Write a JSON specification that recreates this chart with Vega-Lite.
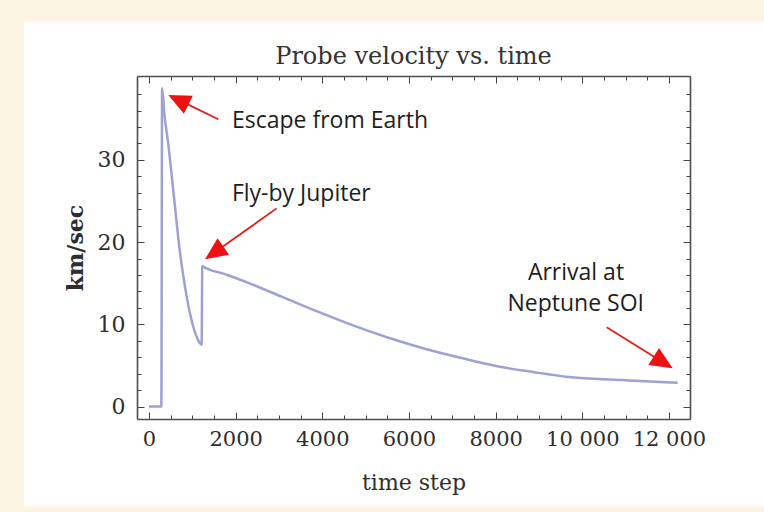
{
  "$schema": "https://vega.github.io/schema/vega-lite/v6.json",
  "width": 553,
  "height": 343,
  "autosize": {"type": "none"},
  "padding": {"left": 137, "top": 76, "right": 74, "bottom": 93},
  "background": "#fcf5e3",
  "title": {
    "text": "Probe velocity vs. time",
    "font": "DejaVu Serif",
    "fontSize": 24,
    "fontWeight": "normal",
    "color": "#333333",
    "anchor": "middle",
    "baseline": "alphabetic",
    "offset": -66
  },
  "config": {
    "view": {"stroke": null},
    "axis": {
      "grid": false,
      "labelFont": "DejaVu Serif",
      "labelFontSize": 21,
      "labelColor": "#2e2e2e",
      "titleFont": "DejaVu Serif",
      "titleColor": "#2e2e2e",
      "tickColor": "#444444",
      "tickWidth": 1,
      "domainColor": "#4d4d4d",
      "domainWidth": 1.6,
      "labelFlush": false,
      "labelOverlap": false
    }
  },
  "resolve": {"axis": {"x": "independent", "y": "independent"}},
  "layer": [
    {
      "data": {"values": [{}]},
      "mark": {"type": "rect", "fill": "#ffffff"},
      "encoding": {
        "x": {"datum": -2885, "type": "quantitative", "scale": {"domain": [-277, 12486], "nice": false, "zero": false}, "axis": null},
        "x2": {"datum": 14300},
        "y": {"datum": 46.8, "type": "quantitative", "scale": {"domain": [-1.52, 40.2], "nice": false, "zero": false}, "axis": null},
        "y2": {"datum": -12.1}
      }
    },
    {
      "data": {
        "values": [
          {"t": 0, "v": 0},
          {"t": 285, "v": 0},
          {"t": 303, "v": 38.7},
          {"t": 353, "v": 35.7},
          {"t": 452, "v": 31.6},
          {"t": 534, "v": 27.6},
          {"t": 616, "v": 23.5},
          {"t": 699, "v": 19.4},
          {"t": 806, "v": 15.4},
          {"t": 946, "v": 11.3},
          {"t": 1045, "v": 9.3},
          {"t": 1177, "v": 7.7},
          {"t": 1215, "v": 7.5},
          {"t": 1230, "v": 17.1},
          {"t": 1240, "v": 17.06},
          {"t": 1750, "v": 16.1},
          {"t": 2265, "v": 15.1},
          {"t": 3090, "v": 13.3},
          {"t": 3913, "v": 11.5},
          {"t": 4738, "v": 9.8},
          {"t": 5562, "v": 8.3},
          {"t": 6386, "v": 7.0},
          {"t": 7210, "v": 5.9},
          {"t": 8034, "v": 4.9},
          {"t": 8859, "v": 4.2},
          {"t": 9683, "v": 3.6},
          {"t": 10507, "v": 3.3},
          {"t": 11331, "v": 3.1},
          {"t": 12200, "v": 2.9}
        ]
      },
      "mark": {"type": "line", "color": "#9ea1d3", "strokeWidth": 2.5, "interpolate": "monotone"},
      "encoding": {
        "x": {
          "field": "t",
          "type": "quantitative",
          "scale": {"domain": [-277, 12486], "nice": false, "zero": false},
          "axis": {
            "orient": "bottom",
            "zindex": 1,
            "values": [0, 2000, 4000, 6000, 8000, 10000, 12000],
            "tickSize": -7,
            "labelPadding": 16,
            "labelExpr": "datum.value >= 10000 ? replace(format(datum.value, ','), ',', ' ') : format(datum.value, 'd')",
            "domain": true,
            "title": "time step",
            "titleFontSize": 22,
            "titleFontWeight": "normal",
            "titlePadding": 23
          }
        },
        "y": {
          "field": "v",
          "type": "quantitative",
          "scale": {"domain": [-1.52, 40.2], "nice": false, "zero": false},
          "axis": {
            "orient": "left",
            "zindex": 1,
            "values": [0, 10, 20, 30],
            "tickSize": -7,
            "labelPadding": 19,
            "labelFontSize": 22,
            "domain": true,
            "title": "km/sec",
            "titleFontSize": 22,
            "titleFontWeight": "bold",
            "titlePadding": 10
          }
        }
      }
    },
    {
      "data": {
        "values": [
          {"label": "escape", "t": 1599, "v": 34.94, "t2": 695, "v2": 37.26, "tipT": 445, "tipV": 37.9},
          {"label": "flyby", "t": 2947, "v": 24.1, "t2": 1519, "v2": 18.76, "tipT": 1292, "tipV": 17.9},
          {"label": "arrival", "t": 10563, "v": 9.64, "t2": 11851, "v2": 5.41, "tipT": 12086, "tipV": 4.65}
        ]
      },
      "layer": [
        {
          "mark": {"type": "rule", "color": "#e01e1e", "strokeWidth": 1.8},
          "encoding": {
            "x": {"field": "t", "type": "quantitative", "axis": {"orient": "bottom", "zindex": 1, "values": [500, 1000, 1500, 2500, 3000, 3500, 4500, 5000, 5500, 6500, 7000, 7500, 8500, 9000, 9500, 10500, 11000, 11500], "tickSize": -4, "labels": false, "domain": false, "title": null}},
            "x2": {"field": "t2"},
            "y": {"field": "v", "type": "quantitative", "axis": {"orient": "left", "zindex": 1, "values": [2, 4, 6, 8, 12, 14, 16, 18, 22, 24, 26, 28, 32, 34, 36, 38], "tickSize": -4, "labels": false, "domain": false, "title": null}},
            "y2": {"field": "v2"}
          }
        },
        {
          "transform": [{"filter": "datum.label === 'escape'"}],
          "mark": {"type": "point", "shape": "M0,0 L0.45,1 L-0.45,1 Z", "filled": true, "size": 2000, "color": "#ee1111", "opacity": 1, "strokeWidth": 0, "angle": 296},
          "encoding": {
            "x": {"field": "tipT", "type": "quantitative", "axis": {"orient": "top", "zindex": 1, "values": [0, 2000, 4000, 6000, 8000, 10000, 12000], "tickSize": -7, "labels": false, "domain": true, "title": null}},
            "y": {"field": "tipV", "type": "quantitative", "axis": {"orient": "right", "zindex": 1, "values": [0, 10, 20, 30], "tickSize": -7, "labels": false, "domain": true, "title": null}}
          }
        },
        {
          "transform": [{"filter": "datum.label === 'flyby'"}],
          "mark": {"type": "point", "shape": "M0,0 L0.45,1 L-0.45,1 Z", "filled": true, "size": 2000, "color": "#ee1111", "opacity": 1, "strokeWidth": 0, "angle": 235},
          "encoding": {
            "x": {"field": "tipT", "type": "quantitative", "axis": null},
            "y": {"field": "tipV", "type": "quantitative", "axis": null}
          }
        },
        {
          "transform": [{"filter": "datum.label === 'arrival'"}],
          "mark": {"type": "point", "shape": "M0,0 L0.45,1 L-0.45,1 Z", "filled": true, "size": 2000, "color": "#ee1111", "opacity": 1, "strokeWidth": 0, "angle": 122},
          "encoding": {
            "x": {"field": "tipT", "type": "quantitative", "axis": null},
            "y": {"field": "tipV", "type": "quantitative", "axis": null}
          }
        }
      ]
    },
    {
      "data": {
        "values": [
          {"label": "Escape from Earth", "t": 4177, "v": 33.84},
          {"label": "Fly-by Jupiter", "t": 3515, "v": 25.04},
          {"label": "Arrival at", "t": 9855, "v": 15.39},
          {"label": "Neptune SOI", "t": 9848, "v": 11.62}
        ]
      },
      "mark": {"type": "text", "font": "Open Sans", "fontSize": 23, "color": "#1e1e1e", "align": "center", "baseline": "alphabetic"},
      "encoding": {
        "x": {"field": "t", "type": "quantitative", "axis": {"orient": "top", "zindex": 1, "values": [500, 1000, 1500, 2500, 3000, 3500, 4500, 5000, 5500, 6500, 7000, 7500, 8500, 9000, 9500, 10500, 11000, 11500], "tickSize": -4, "labels": false, "domain": false, "title": null}},
        "y": {"field": "v", "type": "quantitative", "axis": {"orient": "right", "zindex": 1, "values": [2, 4, 6, 8, 12, 14, 16, 18, 22, 24, 26, 28, 32, 34, 36, 38], "tickSize": -4, "labels": false, "domain": false, "title": null}},
        "text": {"field": "label"}
      }
    }
  ]
}
